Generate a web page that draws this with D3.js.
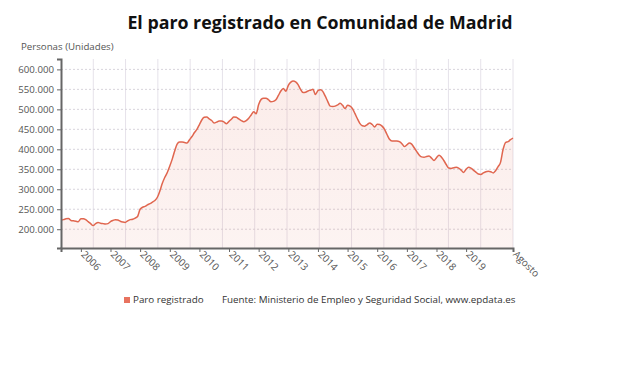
<!DOCTYPE html>
<html>
<head>
<meta charset="utf-8">
<script src="https://cdn.jsdelivr.net/npm/d3@7"></script>
<style>
  body { margin: 0; background: #fff; }
  svg { font-family: "Open Sans", sans-serif; display: block; }
  .grid-h line { stroke: #d8d4dc; stroke-dasharray: 2,2; }
  .grid-v line { stroke: #e6e2ea; }
</style>
</head>
<body>
<svg id="chart" width="640" height="376"></svg>
<script>
// paro registrado, monthly, May 2005 - Aug 2020 (thousands)
const startMonth = new Date(2005, 4, 1);
const paro = [
  // 2005 may-dec
  223, 224, 226, 227, 222, 221, 220, 219,
  // 2006
  226, 226, 224, 219, 214, 209, 214, 217, 215, 214, 213, 214,
  // 2007
  219, 222, 224, 223, 220, 218, 217, 221, 224, 225, 228, 232,
  // 2008
  250, 255, 257, 261, 264, 268, 272, 280, 296, 315, 330, 342,
  // 2009
  358, 376, 395, 413, 418, 418, 417, 416, 424, 432, 442, 450,
  // 2010
  462, 474, 480, 481, 476, 472, 466, 468, 471, 471, 468, 464,
  // 2011
  470, 476, 481, 480, 476, 472, 469, 472, 478, 486, 494, 489,
  // 2012
  512, 525, 528, 528, 524, 519, 520, 524, 535, 546, 552, 545,
  // 2013
  560, 568, 571, 569, 562, 550, 542, 543, 546, 548, 550, 537,
  // 2014
  547, 549, 545, 533, 520, 508, 507, 508, 511, 515, 510, 502,
  // 2015
  510, 508, 502, 490, 477, 465, 459, 458, 462, 466, 462, 456,
  // 2016
  463, 462, 458, 450, 437, 425, 421, 421, 421, 419, 414, 407,
  // 2017
  411, 416, 413, 404, 395, 386, 381, 380, 382, 383, 378, 372,
  // 2018
  379, 385, 381, 372, 362, 353, 352, 354, 355, 353, 348, 342,
  // 2019
  350, 355, 353, 348, 343, 338, 337, 341, 344, 345, 344, 341,
  // 2020 jan-aug
  347, 357, 368, 400, 417, 419, 424, 428
];
const yearTicks = ["2006", "2007", "2008", "2009", "2010", "2011", "2012", "2013",
  "2014", "2015", "2016", "2017", "2018", "2019"];
const lastLabel = "Agosto";
const yTicks = [200000, 250000, 300000, 350000, 400000, 450000, 500000, 550000, 600000];

const data = paro.map((v, i) => ({
  date: new Date(startMonth.getFullYear(), startMonth.getMonth() + i, 1),
  value: v * 1000
}));

const plotL = 61, plotR = 513, plotT = 59, plotB = 248;
const svg = d3.select('#chart');

const x = d3.scaleTime()
  .domain([data[0].date, data[data.length - 1].date])
  .range([plotL, plotR]);
const y = d3.scaleLinear().domain([153000, 626000]).range([plotB, plotT]);

const es = d3.formatLocale({ decimal: ',', thousands: '.', grouping: [3], currency: ['', '€'] });
const fmt = es.format(',d');

// title
svg.append('text')
  .attr('x', 320).attr('y', 29)
  .attr('text-anchor', 'middle')
  .style('font-size', '17.8px').style('font-weight', 700).style('fill', '#111')
  .text('El paro registrado en Comunidad de Madrid');

svg.append('text')
  .attr('x', 21).attr('y', 50)
  .style('font-size', '9.7px').style('fill', '#555')
  .text('Personas (Unidades)');

// vertical grid
const gx = d3.scaleLinear().domain([0, 14]).range([plotL, plotR]);
svg.append('g').attr('class', 'grid-v')
  .selectAll('line').data(d3.range(1, 15)).join('line')
  .attr('x1', d => gx(d)).attr('x2', d => gx(d))
  .attr('y1', plotT).attr('y2', plotB);

// horizontal grid
svg.append('g').attr('class', 'grid-h')
  .selectAll('line').data(yTicks).join('line')
  .attr('x1', plotL).attr('x2', plotR)
  .attr('y1', d => y(d)).attr('y2', d => y(d));

// area + line
const grad = svg.append('defs').append('linearGradient')
  .attr('id', 'fillGrad').attr('x1', 0).attr('x2', 0).attr('y1', 0).attr('y2', 1);
grad.append('stop').attr('offset', '0%').attr('stop-color', '#e2705c').attr('stop-opacity', 0.13);
grad.append('stop').attr('offset', '100%').attr('stop-color', '#e2705c').attr('stop-opacity', 0.08);

const area = d3.area().x(d => x(d.date)).y0(plotB).y1(d => y(d.value)).curve(d3.curveMonotoneX);
const line = d3.line().x(d => x(d.date)).y(d => y(d.value)).curve(d3.curveMonotoneX);

svg.append('path').datum(data).attr('d', area).attr('fill', 'url(#fillGrad)');
svg.append('path').datum(data).attr('d', line)
  .attr('fill', 'none').attr('stroke', '#e0664f').attr('stroke-width', 1.5);

// y axis
const yAxis = svg.append('g').attr('transform', 'translate(' + plotL + ',0)')
  .call(d3.axisLeft(y).tickValues(yTicks).tickFormat(fmt).tickSize(4).tickPadding(3));
yAxis.select('.domain').attr('stroke', '#666').attr('stroke-width', 2);
yAxis.selectAll('.tick line').attr('stroke', '#666');
yAxis.selectAll('.tick text').style('font-size', '9.7px').style('fill', '#555')
  .style('font-family', '"Open Sans", sans-serif');

// x axis
const tickDates = yearTicks.map(t => new Date(+t, 0, 1)).concat([data[data.length - 1].date]);
const labels = yearTicks.concat([lastLabel]);
const xAxis = svg.append('g').attr('transform', 'translate(0,' + plotB + ')')
  .call(d3.axisBottom(x).tickValues(tickDates).tickSize(4).tickFormat((d, i) => labels[i]));
xAxis.select('.domain').attr('stroke', '#666').attr('stroke-width', 2);
xAxis.selectAll('.tick line').attr('stroke', '#666');
xAxis.selectAll('.tick text')
  .attr('text-anchor', 'start').attr('dy', null).attr('y', 0)
  .attr('transform', 'translate(-1,7) rotate(45)')
  .style('font-size', '10px').style('fill', '#555')
  .style('font-family', '"Open Sans", sans-serif');

// legend + source
svg.append('rect').attr('x', 124).attr('y', 297).attr('width', 6).attr('height', 6).attr('fill', '#e8735f');
svg.append('text').attr('x', 133).attr('y', 303)
  .style('font-size', '9.8px').style('fill', '#333').text('Paro registrado');
svg.append('text').attr('x', 222).attr('y', 303)
  .style('font-size', '9.8px').style('fill', '#333')
  .text('Fuente: Ministerio de Empleo y Seguridad Social, www.epdata.es');
</script>
</body>
</html>
